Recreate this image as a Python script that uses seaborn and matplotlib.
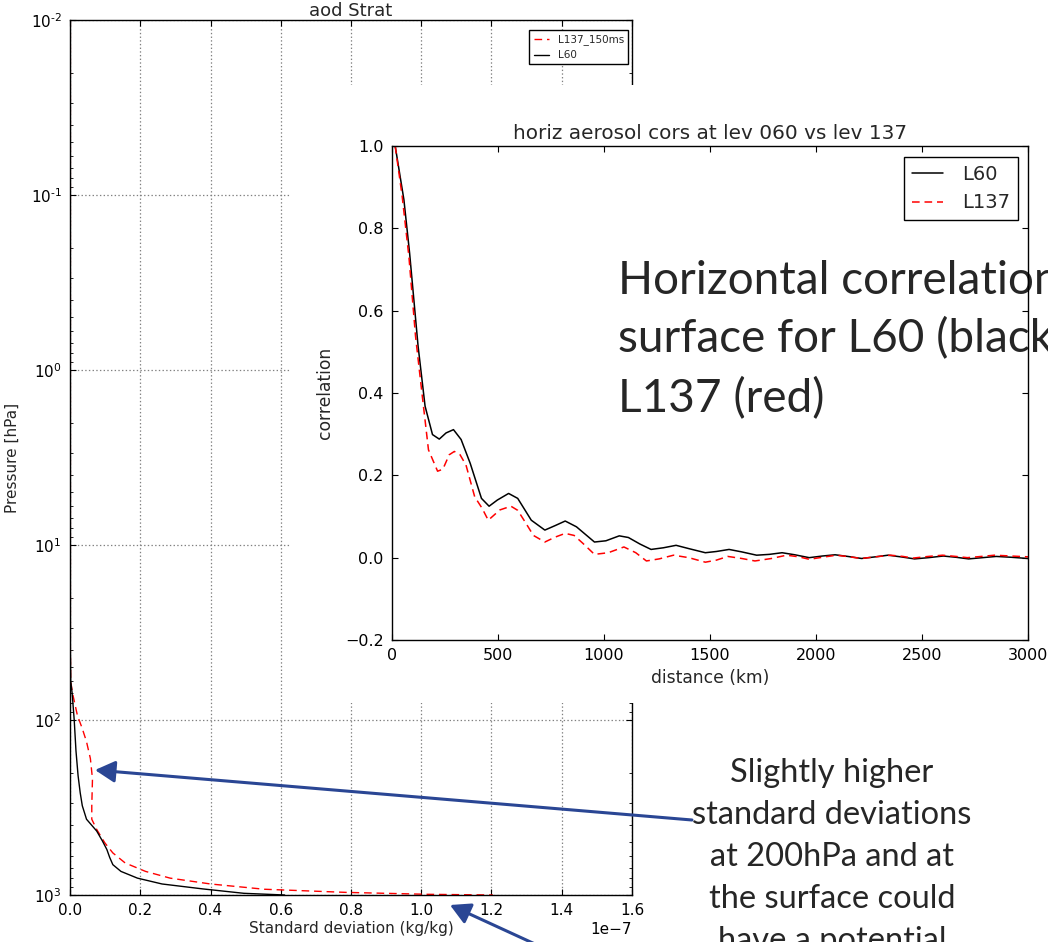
import numpy as np
import pandas as pd
import matplotlib
matplotlib.use("Agg")
import matplotlib.pyplot as plt
import seaborn as sns
from matplotlib.patches import Rectangle, FancyArrowPatch
from matplotlib.ticker import FixedLocator, FixedFormatter

# ---- vertical profile of background error standard deviation (aod Strat) ----
pressure_l60 = [0.01, 0.1, 1, 10, 40, 60, 70, 100, 150, 208, 260, 309, 369, 431,
                490, 550, 610, 671, 733, 801, 865, 923, 978, 1000]
std_l60 = [0.001, 0.001, 0.001, 0.001, 0.001, 0.002, 0.006, 0.012, 0.017, 0.023,
           0.029, 0.035, 0.047, 0.076, 0.092, 0.105, 0.113, 0.122, 0.145, 0.192,
           0.262, 0.378, 0.495, 0.611]  # x 1e-7 kg/kg

pressure_l137 = [0.01, 0.1, 1, 10, 40, 60, 70, 94, 112, 133, 166, 217, 309, 369,
                 422, 503, 575, 656, 733, 801, 865, 927, 966, 991, 1000]
std_l137 = [0.001, 0.001, 0.001, 0.001, 0.001, 0.002, 0.007, 0.021, 0.035, 0.047,
            0.058, 0.064, 0.062, 0.062, 0.076, 0.099, 0.122, 0.157, 0.215, 0.285,
            0.40, 0.553, 0.785, 1.018, 1.204]  # x 1e-7 kg/kg

# ---- horizontal aerosol correlations ----
dist_l60 = [15, 56, 83, 123, 156, 191, 223, 255, 290, 326, 369, 422, 458, 497, 550,
            593, 657, 721, 770, 817, 870, 955, 1009, 1072, 1115, 1170, 1222, 1280,
            1340, 1400, 1478, 1530, 1590, 1650, 1720, 1780, 1840, 1900, 1968, 2030,
            2090, 2150, 2215, 2280, 2340, 2400, 2465, 2530, 2600, 2660, 2720, 2785,
            2850, 2920, 3000]
cor_l60 = [1.0, 0.87, 0.74, 0.514, 0.368, 0.299, 0.288, 0.303, 0.311, 0.287, 0.229,
           0.144, 0.125, 0.14, 0.156, 0.144, 0.091, 0.067, 0.078, 0.089, 0.075,
           0.038, 0.041, 0.053, 0.049, 0.033, 0.02, 0.024, 0.03, 0.022, 0.012,
           0.015, 0.02, 0.014, 0.006, 0.008, 0.012, 0.007, 0.0, 0.004, 0.007,
           0.003, -0.002, 0.002, 0.006, 0.002, -0.003, 0.0, 0.004, 0.001, -0.003,
           0.0, 0.003, 0.001, -0.002]

dist_l137 = [15, 48, 80, 111, 143, 172, 215, 240, 270, 294, 321, 349, 390, 425, 454,
             509, 561, 593, 630, 667, 721, 770, 817, 859, 900, 955, 1020, 1094,
             1150, 1200, 1260, 1328, 1400, 1478, 1530, 1584, 1650, 1712, 1790,
             1861, 1920, 1968, 2030, 2096, 2160, 2213, 2280, 2352, 2410, 2458,
             2530, 2597, 2660, 2714, 2780, 2842, 2920, 3000]
cor_l137 = [1.0, 0.878, 0.73, 0.538, 0.392, 0.262, 0.21, 0.215, 0.25, 0.258, 0.25,
            0.225, 0.148, 0.12, 0.091, 0.116, 0.125, 0.115, 0.085, 0.054, 0.038,
            0.05, 0.059, 0.054, 0.035, 0.008, 0.012, 0.026, 0.012, -0.008, -0.003,
            0.006, 0.0, -0.011, -0.006, 0.003, -0.002, -0.008, -0.002, 0.006,
            0.002, -0.004, 0.001, 0.006, 0.002, -0.002, 0.002, 0.006, 0.003,
            -0.001, 0.003, 0.006, 0.003, 0.0, 0.003, 0.006, 0.004, 0.002]

x_ticks_std = [0.0, 0.2, 0.4, 0.6, 0.8, 1.0, 1.2, 1.4, 1.6]
pressure_exponents = [-2, -1, 0, 1, 2, 3]
dist_ticks = [0, 500, 1000, 1500, 2000, 2500, 3000]
cor_ticks = [-0.2, 0.0, 0.2, 0.4, 0.6, 0.8, 1.0]

note_main = ["Horizontal correlation", "surface for L60 (black)", "L137 (red)"]
note_side = ["Slightly higher", "standard deviations", "at 200hPa and at",
             "the surface could", "have a potential"]

# ---- style ----
sns.set_style("white")
plt.rcParams.update({
    "font.family": ["DejaVu Sans"],
    "xtick.direction": "in",
    "ytick.direction": "in",
    "xtick.top": True,
    "ytick.right": True,
    "xtick.bottom": True,
    "ytick.left": True,
    "xtick.major.size": 4,
    "ytick.major.size": 4,
    "xtick.minor.size": 2,
    "ytick.minor.size": 2,
    "xtick.major.pad": 6,
    "ytick.major.pad": 6,
    "xtick.color": "black",
    "ytick.color": "black",
    "axes.edgecolor": "black",
    "axes.linewidth": 1.0,
    "lines.dashed_pattern": [5.5, 3.5],
    "lines.scale_dashes": False,
    "mathtext.default": "regular",
})

W, H = 1048, 942
fig = plt.figure(figsize=(W / 100, H / 100), dpi=100)
fig.patch.set_facecolor("white")


def fx(px):
    return px / W


def fy(py):
    return 1 - py / H


# ---- left: standard deviation profile ----
ax1 = fig.add_axes([fx(70), fy(895), fx(632) - fx(70), fy(20) - fy(895)])
ax1.set_zorder(0)
prof60 = pd.DataFrame({"p": pressure_l60, "sd": np.array(std_l60) * 1e-7})
prof137 = pd.DataFrame({"p": pressure_l137, "sd": np.array(std_l137) * 1e-7})
sns.lineplot(data=prof137, x="sd", y="p", sort=False, estimator=None, ax=ax1,
             color="red", linestyle="--", lw=1.0, label="L137_150ms")
sns.lineplot(data=prof60, x="sd", y="p", sort=False, estimator=None, ax=ax1,
             color="black", lw=1.0, label="L60")
ax1.set_yscale("log")
ax1.set_ylim(1000, 0.01)
ax1.yaxis.set_major_locator(FixedLocator([10.0 ** e for e in pressure_exponents]))
ax1.yaxis.set_major_formatter(FixedFormatter(
    [r"$10^{\text{%s}}$" % ("-%d" % -e if e < 0 else "%d" % e) for e in pressure_exponents]))
ax1.set_xlim(0, 1.6e-7)
ax1.set_xticks(np.array(x_ticks_std) * 1e-7)
ax1.grid(True, which="major", linestyle=":", color="#808080", lw=0.9)
ax1.tick_params(labelsize=11)
ax1.xaxis.get_offset_text().set_fontsize(11)
ax1.set_xlabel("Standard deviation (kg/kg)", fontsize=11, labelpad=2)
ax1.set_ylabel("Pressure [hPa]", fontsize=11, labelpad=8)
ax1.set_title("aod Strat", fontsize=13, pad=1)
h, l = ax1.get_legend_handles_labels()
leg1 = ax1.legend(h, l, loc="upper right", bbox_to_anchor=(1 - 4 / 562, 1 - 10 / 875),
                  borderaxespad=0, fontsize=7.5, frameon=True, fancybox=False,
                  edgecolor="black", framealpha=1, handlelength=1.5)
leg1.get_frame().set_linewidth(1.0)

# white panel for the correlation plot
fig.add_artist(Rectangle((fx(290), fy(703)), 1 - fx(290), fy(85) - fy(703),
                         transform=fig.transFigure, facecolor="white",
                         edgecolor="none", zorder=1))

# ---- inset: horizontal correlations ----
ax2 = fig.add_axes([fx(392), fy(640), fx(1028) - fx(392), fy(146) - fy(640)])
ax2.set_zorder(3)
ax2.patch.set_alpha(0)
cor60 = pd.DataFrame({"d": dist_l60, "c": cor_l60})
cor137 = pd.DataFrame({"d": dist_l137, "c": cor_l137})
sns.lineplot(data=cor60, x="d", y="c", sort=False, estimator=None, ax=ax2,
             color="black", lw=1.1, label="L60")
sns.lineplot(data=cor137, x="d", y="c", sort=False, estimator=None, ax=ax2,
             color="red", linestyle="--", lw=1.1, label="L137")
ax2.set_xlim(0, 3000)
ax2.set_ylim(-0.2, 1.0)
ax2.set_xticks(dist_ticks)
ax2.set_yticks(cor_ticks)
ax2.set_yticklabels([f"{v:.1f}".replace("-", "\u2212") for v in cor_ticks])
ax2.tick_params(labelsize=11.5)
ax2.set_xlabel("distance (km)", fontsize=12.3, labelpad=4)
ax2.set_ylabel("correlation", fontsize=12.3, labelpad=8)
ax2.set_title("horiz aerosol cors at lev 060 vs lev 137", fontsize=14.4, pad=5)
h2, l2 = ax2.get_legend_handles_labels()
leg2 = ax2.legend(h2, l2, loc="upper right", bbox_to_anchor=(1 - 10 / 636, 1 - 11 / 494),
                  borderaxespad=0, fontsize=14, frameon=True, fancybox=False,
                  edgecolor="black", framealpha=1, handlelength=1.6,
                  handletextpad=1.0)
leg2.get_frame().set_linewidth(1.0)

# ---- annotation texts ----
text_font = ["Lato", "DejaVu Sans"]
for line, base in zip(note_main, [294, 352, 412]):
    fig.text(fx(618), fy(base), line, fontsize=33, family=text_font,
             ha="left", va="baseline", zorder=2)
for line, base in zip(note_side, [782, 824, 866, 908, 950]):
    fig.text(fx(832), fy(base), line, fontsize=23.5, family=text_font,
             ha="center", va="baseline", zorder=5)

arrow_col = "#2A4694"
for start, end in [((692, 820), (95, 770)), ((548, 950), (450, 905))]:
    fig.add_artist(FancyArrowPatch((fx(start[0]), fy(start[1])), (fx(end[0]), fy(end[1])),
                                   transform=fig.transFigure,
                                   arrowstyle="-|>,head_length=0.55,head_width=0.3",
                                   mutation_scale=22, lw=2.2, color=arrow_col,
                                   shrinkA=0, shrinkB=0, zorder=6))

fig.savefig("out.png", dpi=100, facecolor="white")
